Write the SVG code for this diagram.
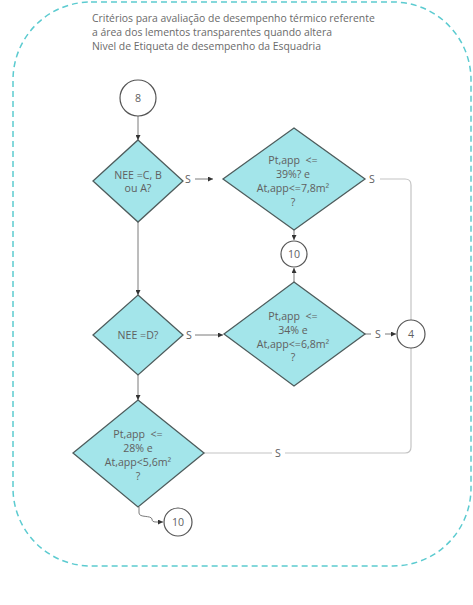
<svg xmlns="http://www.w3.org/2000/svg" width="473" height="605" viewBox="0 0 473 605">
<defs>
<marker id="ah" viewBox="0 0 10 10" refX="10" refY="5" markerWidth="5" markerHeight="5" orient="auto" markerUnits="userSpaceOnUse">
<path d="M0,0 L10,5 L0,10 z" fill="#333"/>
</marker>
<style>
text{font-family:"Open Sans","Liberation Sans",sans-serif;fill:#606060;font-size:10.6px;white-space:pre}
.title{font-size:10.4px;fill:#6a6a6a}
.mid{text-anchor:middle}
.dia{fill:#a3e5ea;stroke:#4e5c5c;stroke-width:1.3}
.circ{fill:#fff;stroke:#555;stroke-width:1.2}
.main{fill:none;stroke:#7a7a7a;stroke-width:1}
.loop{fill:none;stroke:#c4c4c4;stroke-width:1.2}
.border{fill:none;stroke:#5ccbd0;stroke-width:1.5;stroke-dasharray:6 4}
</style>
</defs>
<rect width="473" height="605" fill="#fff"/>
<rect class="border" x="13" y="2" width="458" height="564" rx="78" ry="78"/>
<g id="title">
<text class="title" x="92" y="22">Critérios para avaliação de desempenho térmico referente</text>
<text class="title" x="92" y="36">a área dos lementos transparentes quando altera</text>
<text class="title" x="92" y="50">Nivel de Etiqueta de desempenho da Esquadria</text>
</g>
<g id="connectors">
<path class="main" d="M138,116 V140" marker-end="url(#ah)"/>
<path class="main" d="M138,222 V295" marker-end="url(#ah)"/>
<path class="main" d="M138,375 V400" marker-end="url(#ah)"/>
<path class="main" d="M195,179 H213" marker-end="url(#ah)"/>
<text class="mid" x="188" y="182.5">S</text>
<path class="main" d="M195,335 H223" marker-end="url(#ah)"/>
<text class="mid" x="189" y="338.5">S</text>
<path class="loop" d="M380,179 H405 Q411,179 411,185 V320"/>
<text class="mid" x="372" y="182.5">S</text>
<path class="main" d="M365,334 H371"/>
<text class="mid" x="378" y="337.5">S</text>
<path class="main" d="M385,334 H396" marker-end="url(#ah)"/>
<path class="loop" d="M204,453 H272"/>
<path class="loop" d="M285,453 H405 Q411,453 411,447 V348"/>
<text class="mid" x="278" y="456.5">S</text>
<path class="main" d="M294,230 V240" marker-end="url(#ah)"/>
<path class="main" d="M294,282 V268" marker-end="url(#ah)"/>
<path class="main" d="M139,507 V513 C139,518 151,515 152,519 C152,521 153,522 156,522 H163" marker-end="url(#ah)"/>
</g>
<g id="n8">
<circle class="circ" cx="138" cy="98" r="18"/>
<text class="mid" x="138" y="101.5">8</text>
</g>
<g id="d1">
<polygon class="dia" points="138,140 183,181 138,222 93,181"/>
<text class="mid" x="138" y="178.5">NEE =C, B</text>
<text class="mid" x="138" y="191.5">ou A?</text>
</g>
<g id="d2">
<polygon class="dia" points="294,128 365,179 294,230 223,179"/>
<text class="mid" x="293" y="164">Pt,app  &lt;=</text>
<text class="mid" x="293" y="178">39%? e</text>
<text class="mid" x="293" y="192">At,app&lt;=7,8m²</text>
<text class="mid" x="293" y="206">?</text>
</g>
<g id="n10a">
<circle class="circ" cx="294" cy="254" r="13"/>
<text class="mid" x="294" y="257.5">10</text>
</g>
<g id="d3">
<polygon class="dia" points="138,295 183,335 138,375 93,335"/>
<text class="mid" x="138" y="338.5">NEE =D?</text>
</g>
<g id="d4">
<polygon class="dia" points="294,282 365,334 294,386 224,334"/>
<text class="mid" x="293" y="320">Pt,app  &lt;=</text>
<text class="mid" x="293" y="334">34% e</text>
<text class="mid" x="293" y="347.5">At,app&lt;=6,8m²</text>
<text class="mid" x="293" y="361">?</text>
</g>
<g id="n4">
<circle class="circ" cx="411" cy="334" r="14"/>
<text class="mid" x="411" y="337.5">4</text>
</g>
<g id="d5">
<polygon class="dia" points="138,400 204,453 138,507 73,453"/>
<text class="mid" x="138" y="438">Pt,app  &lt;=</text>
<text class="mid" x="138" y="451.5">28% e</text>
<text class="mid" x="138" y="465.5">At,app&lt;5,6m²</text>
<text class="mid" x="138" y="479.5">?</text>
</g>
<g id="n10b">
<circle class="circ" cx="178" cy="522" r="14"/>
<text class="mid" x="178" y="525.5">10</text>
</g>
</svg>
